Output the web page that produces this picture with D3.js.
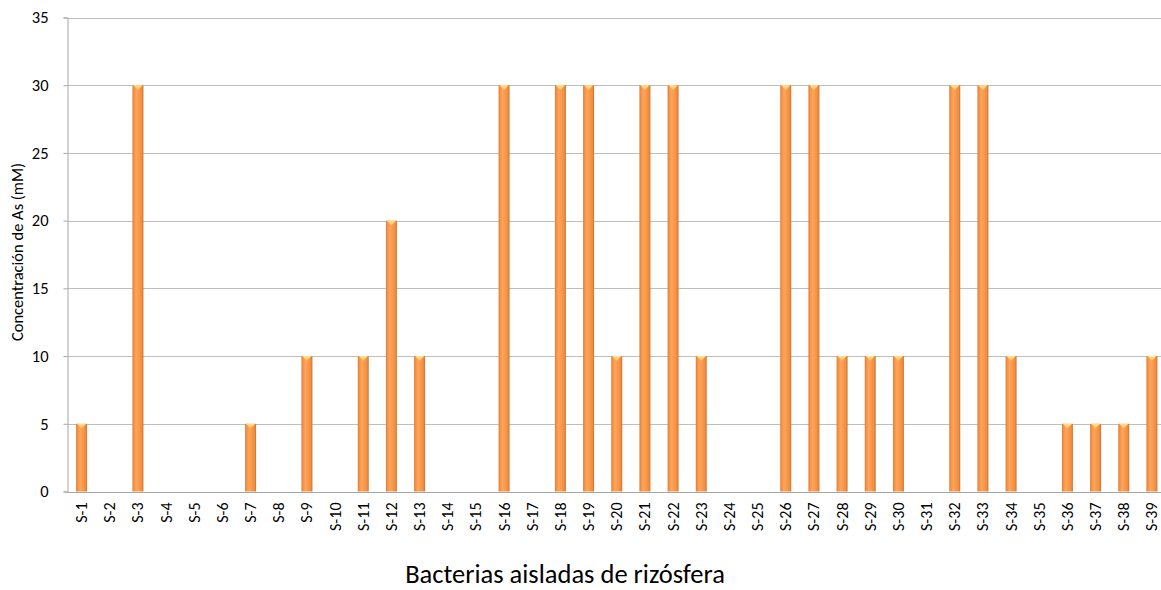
<!DOCTYPE html>
<html>
<head>
<meta charset="utf-8">
<script src="https://cdn.jsdelivr.net/npm/d3@7"></script>
<style>
  html, body { margin: 0; padding: 0; background: #fff; }
  svg { display: block; }
  text { font-family: Calibri, Carlito, Lato, "Open Sans", sans-serif; fill: #000; }
</style>
</head>
<body>
<svg id="chart" width="1161" height="590"></svg>
<script>
// Isolates and the highest arsenic concentration each tolerated (mM)
const categories = ["S-1","S-2","S-3","S-4","S-5","S-6","S-7","S-8","S-9","S-10",
  "S-11","S-12","S-13","S-14","S-15","S-16","S-17","S-18","S-19","S-20",
  "S-21","S-22","S-23","S-24","S-25","S-26","S-27","S-28","S-29","S-30",
  "S-31","S-32","S-33","S-34","S-35","S-36","S-37","S-38","S-39"];
const concentration = [5,0,30,0,0,0,5,0,10,0,
  10,20,10,0,0,30,0,30,30,10,
  30,30,10,0,0,30,30,10,10,10,
  0,30,30,10,0,5,5,5,10];
const yTicks = [0,5,10,15,20,25,30,35];
const xTitle = "Bacterias aisladas de rizósfera";
const yTitle = "Concentración de As (mM)";

const svg = d3.select("#chart");
const margin = { left: 67.5, top: 17.5, right: -5, bottom: 98.5 };
const W = 1161, H = 590;

const x = d3.scaleBand()
  .domain(categories)
  .range([margin.left, W - margin.right])
  .paddingInner(0.61)
  .paddingOuter(0.305);
const y = d3.scaleLinear().domain([0, 35]).range([H - margin.bottom, margin.top]);

// Bar shading: darker edges, bright band left of centre
const defs = svg.append("defs");
const grad = defs.append("linearGradient").attr("id", "barGrad")
  .attr("x1", "0").attr("x2", "1").attr("y1", "0").attr("y2", "0");
[["0%", "#d97a33"], ["12%", "#f48f42"], ["35%", "#fda45c"], ["60%", "#f99a4c"],
 ["85%", "#ef8c40"], ["100%", "#cd7230"]]
  .forEach(([o, c]) => grad.append("stop").attr("offset", o).attr("stop-color", c));
const capGrad = defs.append("linearGradient").attr("id", "capGrad")
  .attr("x1", "0").attr("x2", "0").attr("y1", "0").attr("y2", "1");
[["0%", "#fee58e"], ["100%", "#fbb666"]]
  .forEach(([o, c]) => capGrad.append("stop").attr("offset", o).attr("stop-color", c));

// Horizontal gridlines
svg.append("g")
  .selectAll("line").data(yTicks.filter(d => d > 0)).join("line")
  .attr("x1", margin.left).attr("x2", W)
  .attr("y1", d => Math.round(y(d)) + 0.5).attr("y2", d => Math.round(y(d)) + 0.5)
  .attr("stroke", "#bfbfbf").attr("stroke-width", 1);

// Y axis
const yAxis = svg.append("g")
  .attr("transform", `translate(${margin.left},0)`)
  .call(d3.axisLeft(y).tickValues(yTicks).tickSize(4).tickPadding(15).tickFormat(d3.format("d")));
yAxis.select(".domain").attr("stroke", "#a6a6a6");
yAxis.selectAll(".tick line").attr("stroke", "#a6a6a6");
yAxis.selectAll(".tick text").attr("font-size", 16.5).attr("fill", "#000")
  .attr("font-family", "Calibri, Carlito, Lato, 'Open Sans', sans-serif");

// Bars
const bw = x.bandwidth();
const bars = svg.append("g").selectAll("g").data(categories).join("g")
  .attr("transform", d => `translate(${x(d)},0)`);
bars.filter((d, i) => concentration[i] > 0)
  .append("rect")
  .attr("x", 0).attr("width", bw)
  .attr("y", (d) => y(concentration[categories.indexOf(d)]))
  .attr("height", (d) => y(0) - y(concentration[categories.indexOf(d)]))
  .attr("fill", "url(#barGrad)");
bars.filter((d, i) => concentration[i] > 0)
  .append("path")
  .attr("d", d => {
    const top = y(concentration[categories.indexOf(d)]);
    return `M1,${top}L${bw - 1},${top}L${bw / 2},${top + 5}Z`;
  })
  .attr("fill", "url(#capGrad)");

// X axis baseline
svg.append("line")
  .attr("x1", margin.left).attr("x2", W)
  .attr("y1", Math.round(y(0)) + 0.5).attr("y2", Math.round(y(0)) + 0.5)
  .attr("stroke", "#a6a6a6");

// Category labels, rotated
svg.append("g").selectAll("text").data(categories).join("text")
  .attr("transform", d => `translate(${x(d) + bw / 2 + 5.5},${y(0) + 11}) rotate(-90)`)
  .attr("text-anchor", "end")
  .attr("font-size", 16)
  .text(d => d);

// Axis titles
svg.append("text")
  .attr("x", 565).attr("y", 583)
  .attr("text-anchor", "middle")
  .attr("font-size", 26.5)
  .text(xTitle);
svg.append("text")
  .attr("transform", `translate(23,252) rotate(-90)`)
  .attr("text-anchor", "middle")
  .attr("font-size", 16.5)
  .text(yTitle);
</script>
</body>
</html>
